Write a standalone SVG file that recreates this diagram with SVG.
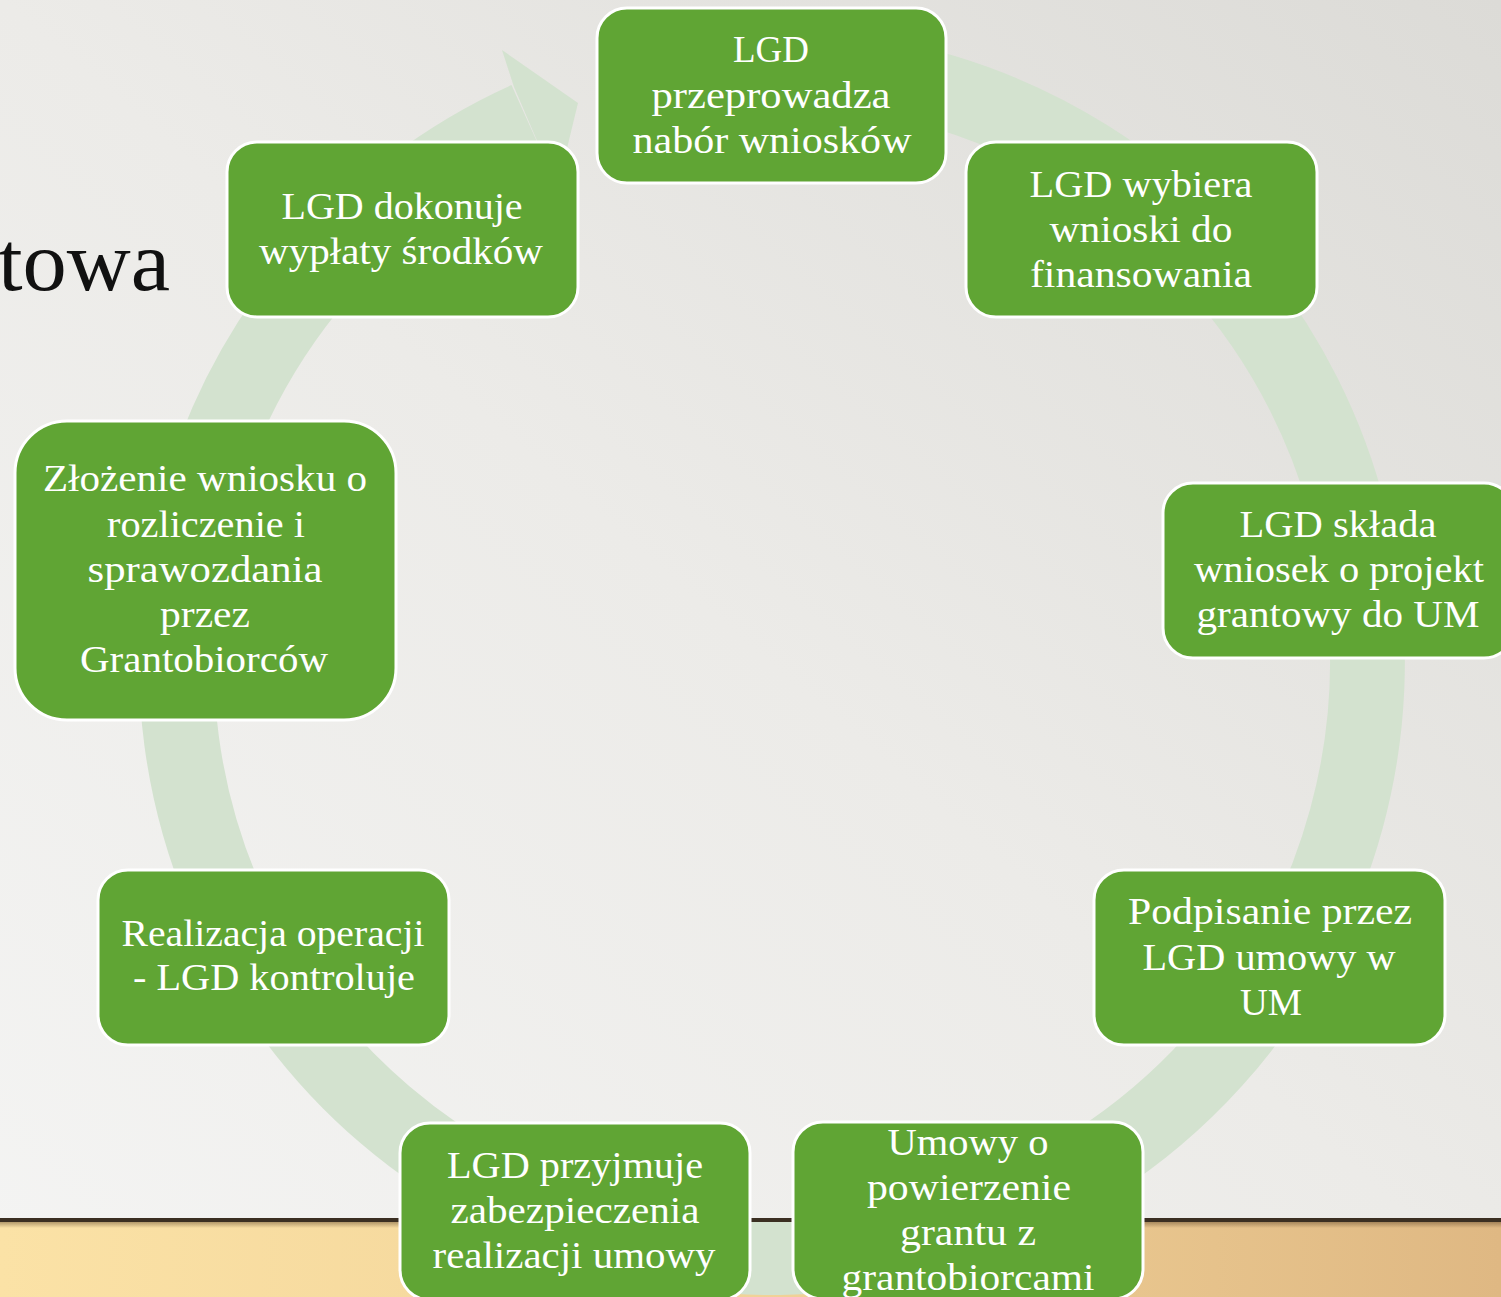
<svg xmlns="http://www.w3.org/2000/svg" width="1501" height="1297" viewBox="0 0 1501 1297">
<defs>
<linearGradient id="bg" x1="0" y1="1" x2="1" y2="0">
<stop offset="0" stop-color="#f4f4f3"/>
<stop offset="0.5" stop-color="#ecebe8"/>
<stop offset="1" stop-color="#dcdbd7"/>
</linearGradient>
<linearGradient id="floor" x1="0" y1="0" x2="1" y2="0">
<stop offset="0" stop-color="#fbe2a6"/>
<stop offset="0.45" stop-color="#f3d59a"/>
<stop offset="1" stop-color="#dfb883"/>
</linearGradient>
<linearGradient id="shadow" x1="0" y1="0" x2="0" y2="1">
<stop offset="0" stop-color="#5a4124" stop-opacity="0.45"/>
<stop offset="1" stop-color="#5a4124" stop-opacity="0"/>
</linearGradient>
<style>
.box{fill:#60a534;stroke:#ffffff;stroke-width:3}
.t{font-family:"Liberation Serif","Times New Roman",serif;font-size:38px;fill:#ffffff;text-anchor:middle}
.ring{fill:none;stroke:#d3e2cf;stroke-width:75}
</style>
</defs>
<rect x="0" y="0" width="1501" height="1297" fill="url(#bg)"/>
<rect x="0" y="1221" width="1501" height="76" fill="url(#floor)"/>
<rect x="0" y="1222" width="1501" height="6" fill="url(#shadow)"/>
<text x="170" y="290" font-family="'Liberation Serif','Times New Roman',serif" font-size="84" fill="#111111" text-anchor="end" textLength="172" lengthAdjust="spacingAndGlyphs">towa</text>
<g id="connectors">
<path class="ring" d="M 668.6 75.6 A 595.5 595.5 0 1 1 526.9 119.3"/>
<polygon points="502,50 578,103 557.6,187.2 538,143 514,87" fill="#d3e2cf"/>
</g>
<rect x="0" y="1218" width="1501" height="4" fill="#3b2f22"/>
<g id="n1"><rect class="box" x="597" y="8" width="349" height="175" rx="30"/>
<text class="t" x="771" y="62" textLength="76" lengthAdjust="spacingAndGlyphs">LGD</text>
<text class="t" x="771" y="108" textLength="239" lengthAdjust="spacingAndGlyphs">przeprowadza</text>
<text class="t" x="772" y="153" textLength="279" lengthAdjust="spacingAndGlyphs">nabór wniosków</text></g>
<g id="n2"><rect class="box" x="966" y="142" width="351" height="175" rx="30"/>
<text class="t" x="1141" y="197" textLength="223" lengthAdjust="spacingAndGlyphs">LGD wybiera</text>
<text class="t" x="1141" y="242" textLength="183" lengthAdjust="spacingAndGlyphs">wnioski do</text>
<text class="t" x="1141" y="287" textLength="222" lengthAdjust="spacingAndGlyphs">finansowania</text></g>
<g id="n3"><rect class="box" x="1163" y="483" width="351" height="175" rx="30"/>
<text class="t" x="1338" y="537" textLength="197" lengthAdjust="spacingAndGlyphs">LGD składa</text>
<text class="t" x="1339" y="582" textLength="290" lengthAdjust="spacingAndGlyphs">wniosek o projekt</text>
<text class="t" x="1338" y="627" textLength="283" lengthAdjust="spacingAndGlyphs">grantowy do UM</text></g>
<g id="n4"><rect class="box" x="1094" y="870" width="351" height="175" rx="30"/>
<text class="t" x="1270" y="924" textLength="284" lengthAdjust="spacingAndGlyphs">Podpisanie przez</text>
<text class="t" x="1269" y="970" textLength="253" lengthAdjust="spacingAndGlyphs">LGD umowy w</text>
<text class="t" x="1271" y="1015" textLength="62" lengthAdjust="spacingAndGlyphs">UM</text></g>
<g id="n5"><rect class="box" x="793" y="1122" width="350" height="177" rx="30"/>
<text class="t" x="968" y="1155" textLength="161" lengthAdjust="spacingAndGlyphs">Umowy o</text>
<text class="t" x="969" y="1200" textLength="204" lengthAdjust="spacingAndGlyphs">powierzenie</text>
<text class="t" x="968" y="1245" textLength="136" lengthAdjust="spacingAndGlyphs">grantu z</text>
<text class="t" x="968" y="1290" textLength="253" lengthAdjust="spacingAndGlyphs">grantobiorcami</text></g>
<g id="n6"><rect class="box" x="400" y="1123" width="350" height="177" rx="30"/>
<text class="t" x="575" y="1178" textLength="256" lengthAdjust="spacingAndGlyphs">LGD przyjmuje</text>
<text class="t" x="575" y="1223" textLength="249" lengthAdjust="spacingAndGlyphs">zabezpieczenia</text>
<text class="t" x="574" y="1268" textLength="283" lengthAdjust="spacingAndGlyphs">realizacji umowy</text></g>
<g id="n7"><rect class="box" x="98" y="870" width="351" height="175" rx="30"/>
<text class="t" x="273" y="946" textLength="303" lengthAdjust="spacingAndGlyphs">Realizacja operacji</text>
<text class="t" x="274" y="990" textLength="282" lengthAdjust="spacingAndGlyphs">- LGD kontroluje</text></g>
<g id="n8"><rect class="box" x="15" y="421" width="381" height="299" rx="52"/>
<text class="t" x="205" y="491" textLength="324" lengthAdjust="spacingAndGlyphs">Złożenie wniosku o</text>
<text class="t" x="206" y="537" textLength="198" lengthAdjust="spacingAndGlyphs">rozliczenie i</text>
<text class="t" x="205" y="582" textLength="235" lengthAdjust="spacingAndGlyphs">sprawozdania</text>
<text class="t" x="205" y="627" textLength="90" lengthAdjust="spacingAndGlyphs">przez</text>
<text class="t" x="204" y="672" textLength="248" lengthAdjust="spacingAndGlyphs">Grantobiorców</text></g>
<g id="n9"><rect class="box" x="227" y="142" width="351" height="175" rx="30"/>
<text class="t" x="402" y="219" textLength="241" lengthAdjust="spacingAndGlyphs">LGD dokonuje</text>
<text class="t" x="401" y="264" textLength="284" lengthAdjust="spacingAndGlyphs">wypłaty środków</text></g>
</svg>
